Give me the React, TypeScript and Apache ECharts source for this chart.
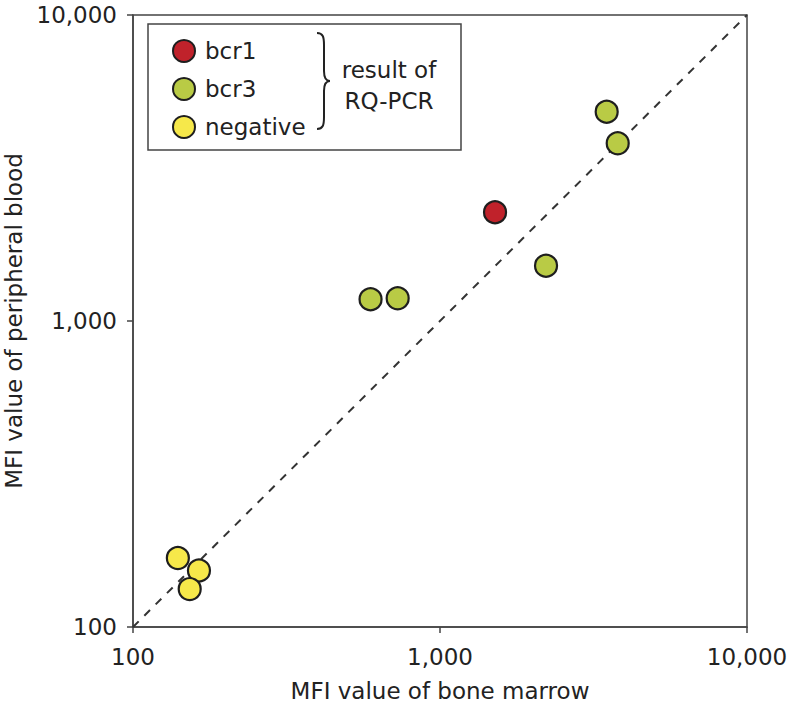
import React, { useEffect, useRef } from "react";
import * as echarts from "echarts";

const bcr1Points: [number, number][] = [[1511, 2266]];
const bcr3Points: [number, number][] = [
  [594, 1178],
  [728, 1186],
  [2215, 1516],
  [3491, 4830],
  [3792, 3808],
];
const negativePoints: [number, number][] = [
  [140, 168],
  [164, 153],
  [153, 133],
];
const diagonal: [number, number][] = [
  [100, 100],
  [10000, 10000],
];
const seriesNames = ["bcr1", "bcr3", "negative"];
const seriesColors = ["#c0222b", "#b9cb45", "#f6e84a"];
const xAxisTitle = "MFI value of bone marrow";
const yAxisTitle = "MFI value of peripheral blood";
const braceLines = ["result of", "RQ-PCR"];

const FONT = "'DejaVu Sans', 'Liberation Sans', Arial, sans-serif";
const FS = 23;
const BRACE_D =
  "M0,0 C6,0 7,4 7,12 L7,38 C7,45 9,48 13,48 C9,48 7,51 7,58 L7,84 C7,92 6,96 0,96";

try {
  echarts.graphic.registerShape("brace", echarts.graphic.extendPath(BRACE_D, {}));
} catch (e) {}

export default function App() {
  const ref = useRef<HTMLDivElement>(null);
  useEffect(() => {
    if (!ref.current) return;
    const chart = echarts.init(ref.current, null, { renderer: "svg" });
    const fmt = (v: number) => Math.round(v).toLocaleString("en-US");
    const markerStyle = (c: string) => ({ color: c, borderColor: "#1e1e1e", borderWidth: 2.2, opacity: 1 });
    const axisCommon = {
      type: "log" as const,
      logBase: 10,
      min: 100,
      max: 10000,
      nameLocation: "middle" as const,
      nameTextStyle: { fontSize: FS, color: "#222", fontFamily: FONT },
      axisLine: { show: true, lineStyle: { color: "#444", width: 1.5 } },
      axisTick: { show: true, inside: false, length: 6, lineStyle: { color: "#444", width: 1.5 } },
      splitLine: { show: false },
      minorTick: { show: false },
      axisLabel: {
        formatter: fmt,
        fontSize: FS,
        color: "#222",
        fontFamily: FONT,
        showMinLabel: true,
        showMaxLabel: true,
      },
    };
    chart.setOption({
      animation: false,
      backgroundColor: "#fff",
      textStyle: { fontFamily: FONT },
      grid: {
        left: 133,
        right: 42,
        top: 15,
        bottom: 87,
        containLabel: false,
        outerBoundsMode: "none",
        show: true,
        borderColor: "#444",
        borderWidth: 1.5,
        backgroundColor: "transparent",
      },
      xAxis: {
        ...axisCommon,
        name: xAxisTitle,
        nameGap: 52,
        axisLabel: { ...axisCommon.axisLabel, margin: 18 },
      },
      yAxis: {
        ...axisCommon,
        name: yAxisTitle,
        nameGap: 96,
        axisLabel: { ...axisCommon.axisLabel, margin: 16 },
      },
      legend: {
        data: seriesNames,
        orient: "vertical",
        left: 172,
        top: 39,
        padding: 0,
        itemWidth: 22,
        itemHeight: 22,
        itemGap: 14,
        icon: "circle",
        textStyle: { fontSize: FS, color: "#222", fontFamily: FONT, padding: [0, 0, 0, 5] },
        selectedMode: false,
      },
      graphic: [
        {
          type: "rect",
          shape: { x: 148, y: 24, width: 313, height: 126 },
          style: { fill: "none", stroke: "#444", lineWidth: 1.5 },
          z: 100,
        },
        {
          type: "brace",
          x: 317,
          y: 33,
          scaleX: 1,
          scaleY: 1,
          style: { fill: "none", stroke: "#222", lineWidth: 2 },
          z: 100,
        },
        {
          type: "text",
          x: 389,
          y: 70,
          style: {
            text: braceLines[0],
            fontSize: FS,
            fontFamily: FONT,
            fill: "#222",
            align: "center",
            verticalAlign: "middle",
          },
          z: 100,
        },
        {
          type: "text",
          x: 389,
          y: 101,
          style: {
            text: braceLines[1],
            fontSize: FS,
            fontFamily: FONT,
            fill: "#222",
            align: "center",
            verticalAlign: "middle",
          },
          z: 100,
        },
      ],
      series: [
        {
          type: "line",
          data: diagonal,
          symbol: "none",
          lineStyle: { color: "#333", width: 2, type: [8, 8] },
          z: 1,
          silent: true,
        },
        {
          name: seriesNames[0],
          type: "scatter",
          data: bcr1Points,
          symbolSize: 22,
          itemStyle: markerStyle(seriesColors[0]),
          z: 5,
        },
        {
          name: seriesNames[1],
          type: "scatter",
          data: bcr3Points,
          symbolSize: 22,
          itemStyle: markerStyle(seriesColors[1]),
          z: 5,
        },
        {
          name: seriesNames[2],
          type: "scatter",
          data: negativePoints,
          symbolSize: 22,
          itemStyle: markerStyle(seriesColors[2]),
          z: 5,
        },
      ],
    });
    return () => chart.dispose();
  }, []);
  return <div ref={ref} style={{ width: 789, height: 714, position: "absolute", left: 0, top: 0 }} />;
}
